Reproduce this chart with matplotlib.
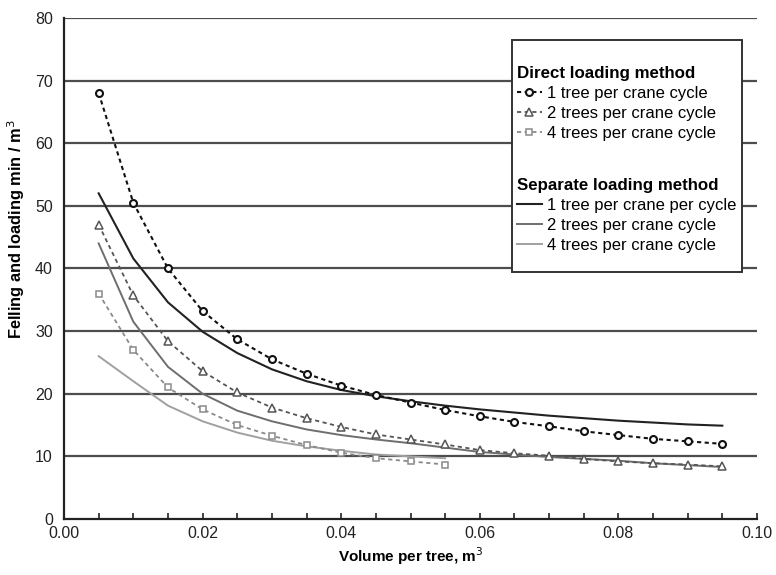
import matplotlib
matplotlib.use("Agg")
import matplotlib.pyplot as plt
from matplotlib.patches import Rectangle

plt.rcParams['font.family'] = ['Liberation Sans', 'DejaVu Sans']
plt.rcParams['lines.scale_dashes'] = False

# Volume per tree (m3)
vol_full = [0.005, 0.010, 0.015, 0.020, 0.025, 0.030, 0.035, 0.040, 0.045, 0.050,
            0.055, 0.060, 0.065, 0.070, 0.075, 0.080, 0.085, 0.090, 0.095]
vol_short = [0.005, 0.010, 0.015, 0.020, 0.025, 0.030, 0.035, 0.040, 0.045, 0.050, 0.055]

# Direct loading method
direct_1 = [68.0, 50.5, 40.0, 33.2, 28.7, 25.5, 23.2, 21.3, 19.8, 18.6,
            17.4, 16.4, 15.5, 14.8, 14.0, 13.4, 12.8, 12.4, 12.0]
direct_2 = [47.0, 35.7, 28.4, 23.6, 20.2, 17.8, 16.1, 14.7, 13.5, 12.7,
            11.9, 11.0, 10.5, 10.1, 9.6, 9.2, 8.9, 8.7, 8.4]
direct_4 = [36.0, 27.0, 21.0, 17.5, 15.0, 13.3, 11.8, 10.6, 9.7, 9.2, 8.7]

# Separate loading method
separate_1 = [52.0, 41.6, 34.6, 29.9, 26.5, 23.9, 22.0, 20.6, 19.6, 18.8,
              18.1, 17.5, 17.0, 16.5, 16.1, 15.7, 15.4, 15.1, 14.9]
separate_2 = [44.0, 31.5, 24.3, 20.0, 17.3, 15.6, 14.3, 13.4, 12.7, 12.1,
              11.4, 10.7, 10.3, 9.9, 9.6, 9.3, 8.9, 8.6, 8.3]
separate_4 = [26.0, 22.0, 18.1, 15.6, 13.8, 12.5, 11.6, 10.9, 10.3, 10.0, 9.7]

x_ticks = [0.00, 0.02, 0.04, 0.06, 0.08, 0.10]
x_tick_labels = ["0.00", "0.02", "0.04", "0.06", "0.08", "0.10"]
y_ticks = [0, 10, 20, 30, 40, 50, 60, 70, 80]

fig = plt.figure(figsize=(7.76, 5.75), dpi=100)
ax = fig.add_axes([0.0825, 0.0974, 0.893, 0.8713])

for yv in y_ticks[1:]:
    ax.axhline(yv, color='#4d4d4d', lw=1.6, zorder=1)

dash = (3, 2.5)
l_d1, = ax.plot(vol_full, direct_1, color='#111111', lw=1.5, dashes=dash,
                marker='o', ms=5, mfc='white', mec='#111111', mew=1.5, zorder=5)
l_d2, = ax.plot(vol_full, direct_2, color='#555555', lw=1.3, dashes=dash,
                marker='^', ms=5.5, mfc='white', mec='#555555', mew=1.1, zorder=5)
l_d4, = ax.plot(vol_short, direct_4, color='#8a8a8a', lw=1.3, dashes=dash,
                marker='s', ms=5, mfc='white', mec='#8a8a8a', mew=1.1, zorder=5)
l_s1, = ax.plot(vol_full, separate_1, color='#222222', lw=1.5, zorder=4)
l_s2, = ax.plot(vol_full, separate_2, color='#6e6e6e', lw=1.4, zorder=4)
l_s4, = ax.plot(vol_short, separate_4, color='#a0a0a0', lw=1.4, zorder=4)

ax.set_xlim(0, 0.10)
ax.set_ylim(0, 80)
ax.set_xticks(x_ticks)
ax.set_xticklabels(x_tick_labels)
ax.set_xticks([0.005 * i for i in range(21)], minor=True)
ax.set_yticks(y_ticks)
ax.tick_params(axis='x', which='both', direction='in', length=4, width=1.2,
               labelsize=11.5, pad=5, colors='#222222')
ax.tick_params(axis='y', which='both', length=0, labelsize=11.5, pad=8, colors='#222222')

for s in ['top', 'right']:
    ax.spines[s].set_visible(False)
for s in ['left', 'bottom']:
    ax.spines[s].set_linewidth(1.6)
    ax.spines[s].set_color('#222222')

ax.set_xlabel("Volume per tree, m$^3$", fontsize=11, fontweight='bold', labelpad=3)
ax.set_ylabel("Felling and loading min / m$^3$", fontsize=11.8, fontweight='bold')
ax.yaxis.set_label_coords(-0.054, 0.578)

# Legend frame
ax.add_patch(Rectangle((0.646, 0.493), 0.332, 0.463, transform=ax.transAxes,
                       facecolor='white', edgecolor='#333333', lw=1.4, zorder=6))

common = dict(frameon=False, fontsize=12, handlelength=1.5, handletextpad=0.3,
              borderpad=0, borderaxespad=0, labelspacing=0.3, alignment='left',
              title_fontproperties={'weight': 'bold', 'size': 12.2})
leg1 = ax.legend([l_d1, l_d2, l_d4],
                 ["1 tree per crane cycle", "2 trees per crane cycle", "4 trees per crane cycle"],
                 title="Direct loading method", loc='upper left',
                 bbox_to_anchor=(0.653, 0.905), **common)
leg1.set_zorder(7)
ax.add_artist(leg1)
leg2 = ax.legend([l_s1, l_s2, l_s4],
                 ["1 tree per crane per cycle", "2 trees per crane cycle", "4 trees per crane cycle"],
                 title="Separate loading method", loc='upper left',
                 bbox_to_anchor=(0.653, 0.681), **common)
leg2.set_zorder(7)

fig.savefig("out.png", dpi=100)
